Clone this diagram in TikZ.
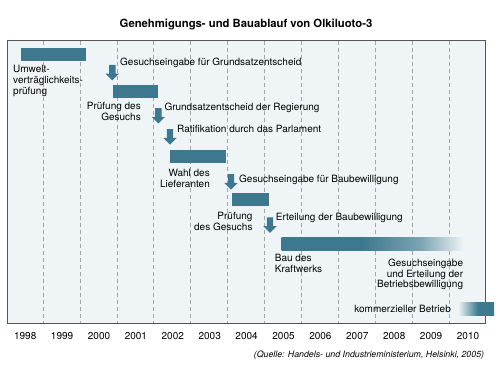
\documentclass[tikz,border=0pt]{standalone}
\usepackage{fontspec}
\setmainfont{TeX Gyre Heros}
\usetikzlibrary{shapes.arrows}
\definecolor{barblue}{RGB}{61,120,142}
\definecolor{framebg}{RGB}{239,245,246}
\definecolor{framegray}{RGB}{85,85,85}
\definecolor{gridgray}{RGB}{165,165,165}
\pgfdeclarehorizontalshading{baufade}{100bp}{color(0bp)=(barblue); color(25bp)=(barblue);
  color(47bp)=(barblue); color(63bp)=(barblue!68); color(75bp)=(barblue!8); color(100bp)=(barblue!8)}
\pgfdeclarehorizontalshading{betriebfade}{100bp}{color(0bp)=(barblue!12); color(25bp)=(barblue!12);
  color(52bp)=(barblue); color(75bp)=(barblue); color(100bp)=(barblue)}

\begin{document}
\begin{tikzpicture}[x=1pt,y=-1pt,
  lbl/.style={font=\fontsize{10}{11.2}\selectfont, inner sep=0pt},
  grid/.style={gridgray, line width=.6pt, dash pattern=on 4pt off 3pt},
  downarrow/.style={single arrow, fill=barblue, draw=none, rotate=-90,
    minimum height=15.5pt, inner sep=3pt, single arrow head extend=3.5pt}]
\useasboundingbox (0,0) rectangle (500,371);

\node[font=\fontsize{11.3}{13}\selectfont\bfseries, inner sep=0pt, anchor=base] (title) at (246,28) {Genehmigungs- und Bauablauf von Olkiluoto-3};

% frame and year grid
\fill[framebg] (7,40.5) rectangle (485,323);
\foreach \k in {0,...,11}
  \draw[grid] (43+36.9*\k,41) -- (43+36.9*\k,322.5);
\draw[framegray, line width=.9pt] (7,40.5) rectangle (485,323);

% bars
\fill[barblue] (21,48.3) rectangle (85.7,60.8);
\fill[barblue] (113,85.3) rectangle (158,97.8);
\fill[barblue] (170.3,150.5) rectangle (226,163);
\fill[barblue] (232,193.5) rectangle (268.7,206);
\shade[shading=baufade] (281.7,237.5) rectangle (464,250);
\shade[shading=betriebfade] (459,302.5) rectangle (494,315);

% arrows
\node[downarrow] (a1) at (112.3,71) {};
\node[downarrow] (a2) at (158.3,114.2) {};
\node[downarrow] (a3) at (170,135.3) {};
\node[downarrow] (a4) at (231,180.2) {};
\node[downarrow] (a5) at (270,223.5) {};

\node[lbl, anchor=base west] (g1) at (120,66) {Gesuchseingabe für Grundsatzentscheid};
\node[lbl, anchor=base west] (g2) at (164.3,111) {Grundsatzentscheid der Regierung};
\node[lbl, anchor=base west] (g3) at (177,132.3) {Ratifikation durch das Parlament};
\node[lbl, anchor=base west] (g4) at (239,182.3) {Gesuchseingabe für Baubewilligung};
\node[lbl, anchor=base west] (g5) at (275.7,220.7) {Erteilung der Baubewilligung};

\node[lbl, align=left, anchor=north west] (uvp) at (13,64.7) {Umwelt-\\verträglichkeits-\\prüfung};
\node[lbl, align=right, anchor=north east] (pg1) at (141,102) {Prüfung des\\Gesuchs};
\node[lbl, align=right, anchor=north east] (wahl) at (210,168.7) {Wahl des\\Lieferanten};
\node[lbl, align=right, anchor=north east] (pg2) at (252.7,211.7) {Prüfung\\des Gesuchs};
\node[lbl, align=left, anchor=north west] (bau) at (274.7,254) {Bau des\\Kraftwerks};
\node[lbl, align=right, anchor=north east, font=\fontsize{10}{10.8}\selectfont] (betr) at (463.3,258.7) {Gesuchseingabe\\und Erteilung der\\Betriebsbewilligung};
\node[lbl, anchor=base east] (komm) at (451,312.7) {kommerzieller Betrieb};

% years
\foreach \yr [count=\k from 0] in {1998,...,2010}
  \node[lbl, anchor=base] (y\yr) at (25.2+36.9*\k,339) {\yr};

\node[font=\fontsize{8.8}{10}\selectfont\itshape, inner sep=0pt, anchor=base east] (quelle) at (484.3,357.3) {(Quelle: Handels- und Industrieministerium, Helsinki, 2005)};
\end{tikzpicture}
\end{document}
